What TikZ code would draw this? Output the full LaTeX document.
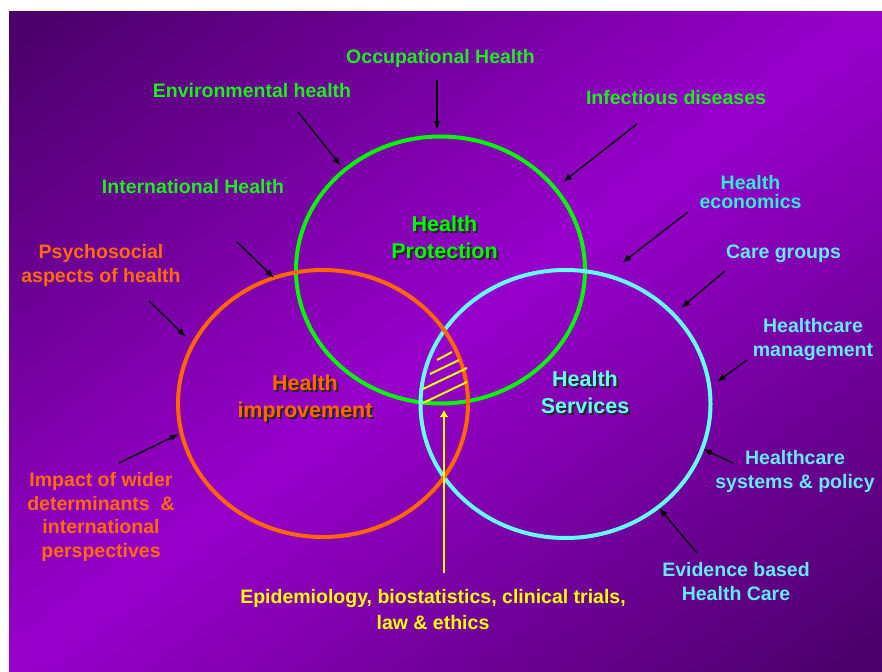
\documentclass[tikz,border=0pt]{standalone}
\usepackage{fontspec}
\setmainfont{Liberation Sans}
\usetikzlibrary{arrows.meta}
\definecolor{bgdark}{RGB}{72,0,102}
\definecolor{bgbright}{RGB}{152,0,204}
\definecolor{ringgreen}{RGB}{0,250,0}
\definecolor{labgreen}{RGB}{30,238,30}
\definecolor{ringorange}{RGB}{255,102,0}
\definecolor{laborange}{RGB}{255,106,10}
\definecolor{ringcyan}{RGB}{102,255,255}
\definecolor{labcyan}{RGB}{100,235,255}
\definecolor{labteal}{RGB}{50,235,210}
\definecolor{epiyellow}{RGB}{255,255,0}

\begin{document}
\begin{tikzpicture}[x=1pt,y=-1pt,
  lab/.style={font=\fontsize{19.5}{24}\selectfont\bfseries, align=center, inner sep=0pt},
  ttl/.style={font=\fontsize{21.5}{27}\selectfont\bfseries, align=center, inner sep=0pt},
  shadowtext/.style={ttl, text=black!85},
  pointer/.style={draw=black, line width=1.3pt, -{Latex[length=9pt,width=6.5pt]}},
  ring/.style={line width=4pt},
  hatch/.style={draw=epiyellow, line width=2pt},
]
\useasboundingbox (0,0) rectangle (882,671);

% diagonal background gradient: dark corners top left and bottom right,
% built from narrow bands across the diagonal
\begin{scope}
  \clip (9,12) rectangle (882,671);
  \begin{scope}[shift={(445.5,341.5)}, rotate=-52.96]
    \foreach \i in {0,...,105} {
      \pgfmathsetmacro{\xa}{-530+10*\i}
      \pgfmathsetmacro{\xb}{\xa+10.8}
      \pgfmathsetmacro{\pct}{max(0,100*(1-abs(\xa+5)/527))}
      \fill[bgbright!\pct!bgdark] (\xa,-700) rectangle (\xb,700);
    }
  \end{scope}
\end{scope}

% the three overlapping areas
\draw[ring, draw=ringgreen]  (440.5,270) ellipse [x radius=144.5, y radius=133.5];
\draw[ring, draw=ringcyan]   (565.5,404) ellipse [x radius=145, y radius=134];
\draw[ring, draw=ringorange] (323,403.5) ellipse [x radius=145, y radius=133.5];

% hatching of the common core
\coordinate (h1a) at (437,360); \coordinate (h1b) at (452,352);
\coordinate (h2a) at (430,374); \coordinate (h2b) at (459,360);
\coordinate (h3a) at (423,389); \coordinate (h3b) at (467,368);
\coordinate (h4a) at (423,403); \coordinate (h4b) at (467,382);
\draw[hatch] (h1a) -- (h1b);
\draw[hatch] (h2a) -- (h2b);
\draw[hatch] (h3a) -- (h3b);
\draw[hatch] (h4a) -- (h4b);

% area titles with drop shadow
\node[shadowtext] (hpS) at (446.5,239) {Health\\Protection};
\node[ttl, text=ringgreen] (hp) at (444.5,237) {Health\\Protection};
\node[shadowtext] (hiS) at (307,400.5) {Health\\improvement};
\node[ttl, text=ringorange] (hi) at (305,398.5) {Health\\improvement};
\node[shadowtext] (hsS) at (587,394) {Health\\Services};
\node[ttl, text=ringcyan] (hs) at (585,392) {Health\\Services};

% surrounding labels
\node[lab, text=labgreen] (occ) at (440.5,58.5) {Occupational Health};
\node[lab, text=labgreen] (env) at (252,90.5) {Environmental health};
\node[lab, text=labgreen] (inf) at (676,97.5) {Infectious diseases};
\node[lab, text=labgreen] (intl) at (193,186.5) {International Health};
\node[lab, text=laborange] (psy) at (101,265.5) {Psychosocial\\aspects of health};
\node[lab, text=laborange, font=\fontsize{19.5}{23.4}\selectfont\bfseries] (imp) at (101,517)
  {Impact of wider\\determinants\ \ \&\\international\\perspectives};
\node[lab, text=labteal, font=\fontsize{19.5}{18.5}\selectfont\bfseries] (econ) at (750.5,192) {Health\\economics};
\node[lab, text=labcyan] (care) at (783.5,253.5) {Care groups};
\node[lab, text=labcyan] (mgmt) at (813,339) {Healthcare\\management};
\node[lab, text=labcyan] (sys) at (795,471.5) {Healthcare\\systems \& policy};
\node[lab, text=labcyan] (ebhc) at (736,581.5) {Evidence based\\Health Care};
\node[lab, text=epiyellow, font=\fontsize{19.5}{26.5}\selectfont\bfseries] (epi) at (433,609.5)
  {Epidemiology, biostatistics, clinical trials,\\law \& ethics};

% pointer arrows
\coordinate (occA) at (437,80);   \coordinate (occB) at (437,130);
\coordinate (envA) at (298,112);  \coordinate (envB) at (341,166);
\coordinate (infA) at (637,124);  \coordinate (infB) at (563,182);
\coordinate (intA) at (237,242);  \coordinate (intB) at (274,278);
\coordinate (psyA) at (149,301);  \coordinate (psyB) at (186,337);
\coordinate (impA) at (119,463);  \coordinate (impB) at (179,434);
\coordinate (ecoA) at (688,212);  \coordinate (ecoB) at (622,263);
\coordinate (carA) at (725,271);  \coordinate (carB) at (681,308);
\coordinate (mgtA) at (747,360);  \coordinate (mgtB) at (717,382);
\coordinate (sysA) at (733,463);  \coordinate (sysB) at (703,449);
\coordinate (ebhA) at (697,553);  \coordinate (ebhB) at (659,508);
\draw[pointer] (occA) -- (occB);
\draw[pointer] (envA) -- (envB);
\draw[pointer] (infA) -- (infB);
\draw[pointer] (intA) -- (intB);
\draw[pointer] (psyA) -- (psyB);
\draw[pointer] (impA) -- (impB);
\draw[pointer] (ecoA) -- (ecoB);
\draw[pointer] (carA) -- (carB);
\draw[pointer] (mgtA) -- (mgtB);
\draw[pointer] (sysA) -- (sysB);
\draw[pointer] (ebhA) -- (ebhB);

% yellow arrow into the common core
\coordinate (epiA) at (444,573);
\coordinate (epiB) at (444,410);
\draw[draw=epiyellow, line width=2.6pt, -{Latex[length=7pt,width=9pt]}] (epiA) -- (epiB);
\end{tikzpicture}
\end{document}
